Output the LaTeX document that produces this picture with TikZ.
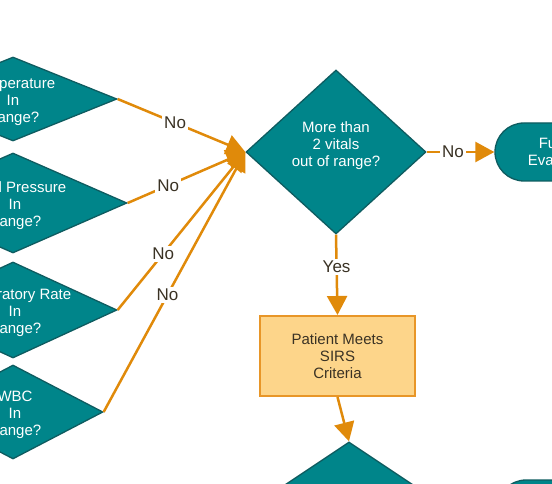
\documentclass[tikz,border=0pt]{standalone}
\usepackage{fontspec}
\setmainfont{Liberation Sans}
\usetikzlibrary{arrows.meta,shapes.geometric}
\definecolor{sepsteal}{RGB}{0,133,138}
\definecolor{sepsedge}{RGB}{14,92,96}
\definecolor{sepsorange}{RGB}{224,138,10}
\definecolor{sepsbox}{RGB}{253,213,138}
\definecolor{sepsboxedge}{RGB}{232,150,40}
\definecolor{sepstext}{RGB}{58,50,36}

\begin{document}
\begin{tikzpicture}[x=1pt, y=-1pt,
        vital/.style={diamond, draw=sepsedge, fill=sepsteal, line width=1.3pt, inner sep=0pt},
        vtext/.style={text=white, align=center, inner sep=0pt, yshift=-2.5pt, font=\fontsize{15}{17}\selectfont},
        terminal/.style={draw=sepsedge, fill=sepsteal, line width=1.3pt, rounded corners=29pt, minimum width=136pt, minimum height=58pt, text=white, align=center, font=\fontsize{15}{17}\selectfont},
        result/.style={draw=sepsboxedge, fill=sepsbox, line width=2pt, minimum width=155pt, minimum height=80pt, text=sepstext, align=center, font=\fontsize{15}{17}\selectfont},
        flow/.style={-{Triangle[length=19pt, width=20pt]}, line width=2.5pt, draw=sepsorange},
        lbl/.style={fill=white, text=sepstext, inner sep=2pt, font=\fontsize{17}{19}\selectfont}
      ]
      \useasboundingbox (0,0) rectangle (552,484);
      \clip (0,0) rectangle (552,484);

      % vital sign checks
      \node[vital, minimum width=208pt, minimum height=84pt, label={[vtext]center:Temperature\\In\\Range?}] (temp) at (13,99) {};
      \node[vital, minimum width=228pt, minimum height=100pt, label={[vtext, xshift=2pt]center:Blood Pressure\\In\\Range?}] (bp) at (13,203) {};
      \node[vital, minimum width=208pt, minimum height=96pt, label={[vtext, xshift=2pt]center:Respiratory Rate\\In\\Range?}] (resp) at (13,310) {};
      \node[vital, minimum width=180pt, minimum height=94pt, label={[vtext, xshift=2pt]center:WBC\\In\\Range?}] (wbc) at (13,412) {};

      \node[vital, minimum width=180pt, minimum height=164pt, label={[vtext, yshift=9pt]center:More than\\2 vitals\\out of range?}] (check) at (336,152) {};
      \node[terminal] (further) at (563,152) {Further\\Evaluation};
      \node[result] (sirs) at (337.5,356) {Patient Meets\\SIRS\\Criteria};

      \node[vital, minimum width=240pt, minimum height=160pt] (nextq) at (349,522) {};
      \node[terminal] (nextend) at (565,509) {};

      \draw[flow] (temp.east) -- node[pos=0.45, lbl] {No} (check.west);
      \draw[flow] (bp.east) -- node[pos=0.345, lbl] {No} (check.west);
      \draw[flow] (resp.east) -- node[pos=0.357, lbl] {No} (check.west);
      \draw[flow] (wbc.east) -- node[pos=0.45, lbl] {No} (check.west);

      \draw[flow] (check.east) -- node[pos=0.39, lbl] {No} (further.west);
      \draw[flow] (check.south) -- node[pos=0.4, lbl] {Yes} (sirs.north);
      \draw[flow] (sirs.south) -- (nextq.north);
    \end{tikzpicture}
\end{document}
